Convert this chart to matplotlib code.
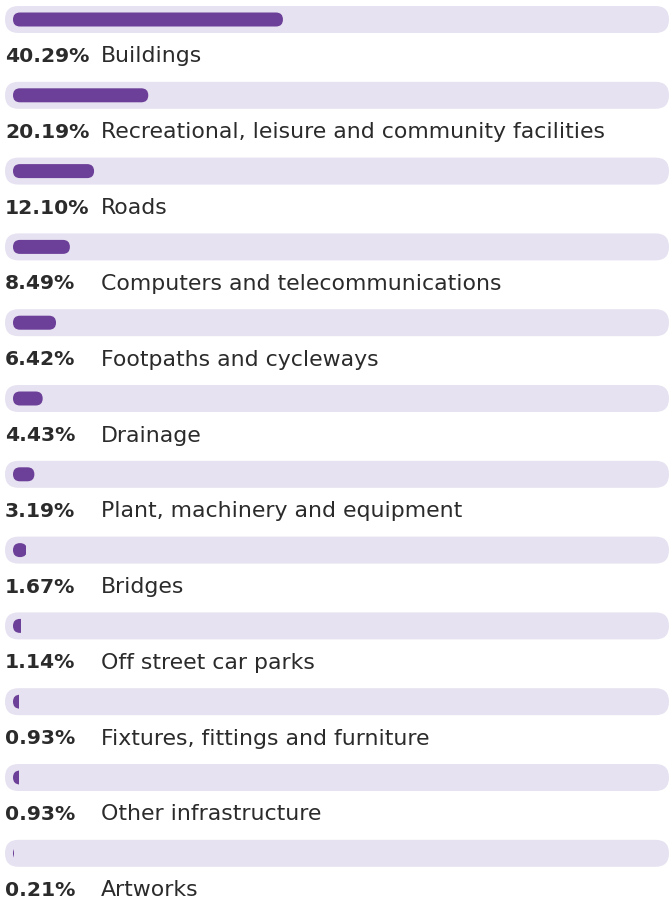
import matplotlib
matplotlib.use('Agg')
import matplotlib.pyplot as plt
from matplotlib.patches import FancyBboxPatch, Rectangle

categories = [
    "Buildings",
    "Recreational, leisure and community facilities",
    "Roads",
    "Computers and telecommunications",
    "Footpaths and cycleways",
    "Drainage",
    "Plant, machinery and equipment",
    "Bridges",
    "Off street car parks",
    "Fixtures, fittings and furniture",
    "Other infrastructure",
    "Artworks",
]
shares = [40.29, 20.19, 12.10, 8.49, 6.42, 4.43, 3.19, 1.67, 1.14, 0.93, 0.93, 0.21]
labels = ["40.29%", "20.19%", "12.10%", "8.49%", "6.42%", "4.43%",
          "3.19%", "1.67%", "1.14%", "0.93%", "0.93%", "0.21%"]

TRACK = "#e6e2f1"
BAR = "#6c3f98"
TEXT = "#2b2b2b"

# canvas in pixel units, y pointing down
W, H = 670, 899
fig = plt.figure(figsize=(W / 100, H / 100), dpi=100)
ax = fig.add_axes([0, 0, 1, 1])
ax.set_xlim(0, W)
ax.set_ylim(H, 0)
ax.axis('off')

step = 75.8
track_h = 27
bar_h = 14
x0 = 13
px_per_pct = 6.7

for i, (cat, val, lab) in enumerate(zip(categories, shares, labels)):
    cy = 19.5 + i * step
    # lavender track, runs to the right edge
    ax.add_patch(FancyBboxPatch((5, cy - track_h / 2), 664, track_h,
                                boxstyle="round,pad=0,rounding_size=13.5",
                                fc=TRACK, ec='none'))
    # purple value bar (pill clipped to its length)
    w = val * px_per_pct
    bar = FancyBboxPatch((x0, cy - bar_h / 2), max(w, bar_h), bar_h,
                         boxstyle="round,pad=0,rounding_size=7",
                         fc=BAR, ec='none')
    ax.add_patch(bar)
    clip = Rectangle((x0 - 1, cy - bar_h), max(w, 1.2 * w if w > 10 else w) + 1,
                     bar_h * 2, transform=ax.transData)
    bar.set_clip_path(clip)

    ty = cy + 37
    ax.text(5, ty, lab, fontsize=14.6, fontweight='bold', color=TEXT,
            va='center', ha='left')
    ax.text(101, ty, cat, fontsize=15.8, color=TEXT,
            va='center', ha='left')

fig.savefig("out.png", dpi=100, facecolor='white')
